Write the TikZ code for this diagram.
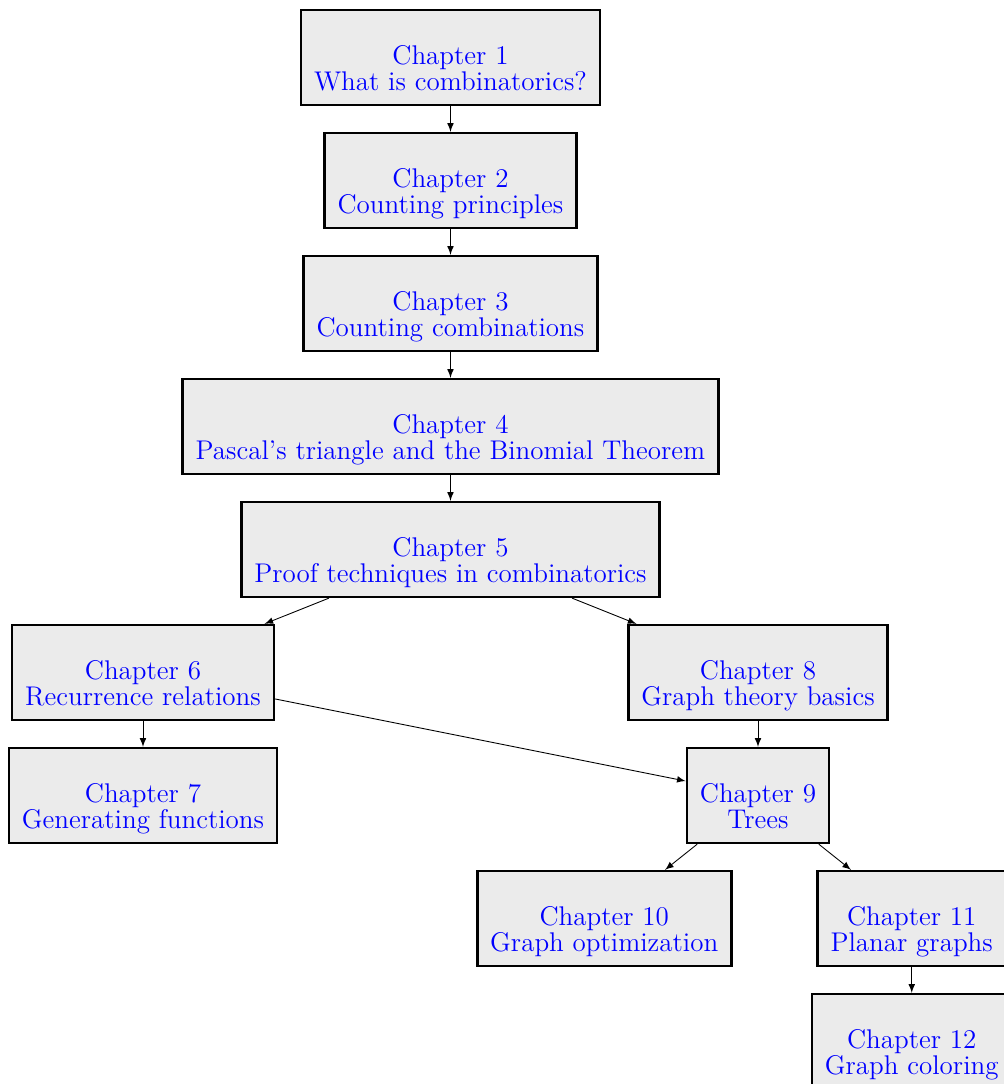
\documentclass[tikz,border=0pt]{standalone}
\usetikzlibrary{arrows}
\begin{document}
\begin{tikzpicture}[
    chapbox/.style={draw, line width=1.2pt, fill=black!8, text=blue, align=center, inner xsep=6pt, inner ysep=3.2pt, font=\fontsize{12.5}{12}\selectfont},
    link/.style={->, >=latex, thin}
  ]
        \useasboundingbox (-7.325,0.935) rectangle (8.984,-16.691);
        \node [chapbox] (ch1) at (0,0) {\strut\\Chapter 1\\What is combinatorics?\strut};
        \node [chapbox] (ch2) at (0,-2) {\strut\\Chapter 2\\Counting principles\strut};
        \node [chapbox] (ch3) at (0,-4) {\strut\\Chapter 3\\Counting combinations\strut};
        \node [chapbox] (ch4) at (0,-6) {\strut\\Chapter 4\\Pascal's triangle and the Binomial Theorem\strut};
        \node [chapbox] (ch5) at (0,-8) {\strut\\Chapter 5\\Proof techniques in combinatorics\strut};
        \node [chapbox] (ch6) at (-5,-10) {\strut\\Chapter 6\\Recurrence relations\strut};
        \node [chapbox] (ch7) at (-5,-12) {\strut\\Chapter 7\\Generating functions\strut};
        \node [chapbox] (ch8) at (5,-10) {\strut\\Chapter 8\\Graph theory basics\strut};
        \node [chapbox] (ch9) at (5,-12) {\strut\\Chapter 9\\Trees\strut};
        \node [chapbox] (ch10) at (2.5,-14) {\strut\\Chapter 10\\Graph optimization\strut};
        \node [chapbox] (ch11) at (7.5,-14) {\strut\\Chapter 11\\Planar graphs\strut};
        \node [chapbox] (ch12) at (7.5,-16) {\strut\\Chapter 12\\Graph coloring\strut};
        \draw[link] (ch1) -- (ch2);
        \draw[link] (ch2) -- (ch3);
        \draw[link] (ch3) -- (ch4);
        \draw[link] (ch4) -- (ch5);
        \draw[link] (ch5) -- (ch6);
        \draw[link] (ch5) -- (ch8);
        \draw[link] (ch6) -- (ch7);
        \draw[link] (ch8) -- (ch9);
        \draw[link] (ch9) -- (ch10);
        \draw[link] (ch9) -- (ch11);
        \draw[link] (ch11) -- (ch12);
        \draw[link] (ch6) -- (ch9);
    \end{tikzpicture}
\end{document}
